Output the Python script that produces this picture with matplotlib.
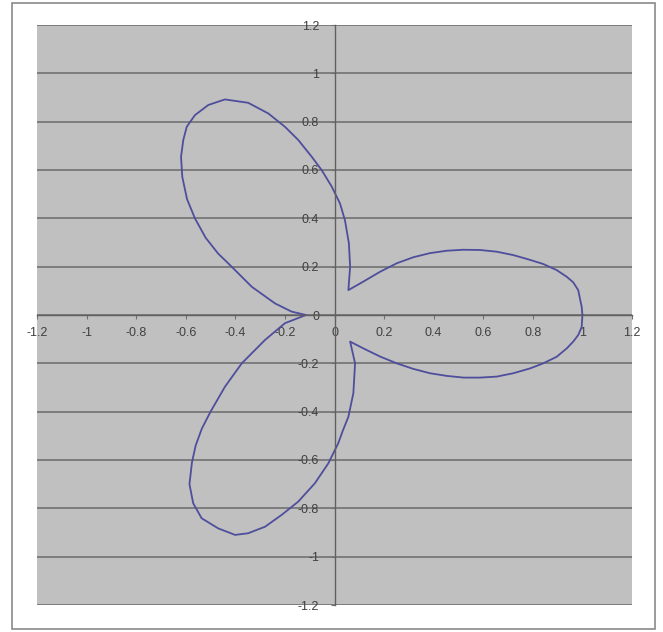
import matplotlib

matplotlib.use("Agg")
import matplotlib.pyplot as plt
from matplotlib.patches import Rectangle

# curve, in drawing order (one closed loop)
right_upper_x = [1.0, 0.997, 0.983, 0.963, 0.937, 0.896, 0.842, 0.789, 0.721, 0.654,
                 0.587, 0.52, 0.453, 0.385, 0.318, 0.251, 0.184, 0.116, 0.056]
right_upper_y = [0.0, 0.034, 0.103, 0.135, 0.158, 0.186, 0.211, 0.228, 0.248, 0.262,
                 0.269, 0.27, 0.266, 0.256, 0.239, 0.214, 0.179, 0.138, 0.103]

top_leaf_x = [0.063, 0.058, 0.042, 0.022, -0.011, -0.052, -0.092, -0.146, -0.2, -0.267,
              -0.348, -0.442, -0.509, -0.563, -0.596, -0.61, -0.619, -0.614, -0.595,
              -0.563, -0.52, -0.47, -0.415, -0.334, -0.24, -0.173, -0.115]
top_leaf_y = [0.2, 0.297, 0.393, 0.462, 0.531, 0.6, 0.655, 0.724, 0.779, 0.834,
              0.878, 0.892, 0.869, 0.827, 0.779, 0.724, 0.655, 0.572, 0.48,
              0.4, 0.32, 0.255, 0.2, 0.117, 0.048, 0.014, 0.0]

bottom_leaf_x = [-0.2, -0.28, -0.374, -0.442, -0.5, -0.535, -0.56, -0.575, -0.585, -0.57,
                 -0.536, -0.469, -0.401, -0.348, -0.28, -0.213, -0.146, -0.079, -0.025,
                 0.015, 0.033, 0.056, 0.076, 0.083, 0.063]
bottom_leaf_y = [-0.034, -0.103, -0.2, -0.297, -0.4, -0.47, -0.54, -0.61, -0.7, -0.779,
                 -0.841, -0.883, -0.91, -0.903, -0.876, -0.827, -0.772, -0.696, -0.614,
                 -0.531, -0.48, -0.421, -0.324, -0.2, -0.11]

right_lower_x = [0.116, 0.184, 0.251, 0.318, 0.385, 0.453, 0.52, 0.587, 0.654, 0.721,
                 0.789, 0.842, 0.896, 0.937, 0.963, 0.983, 0.997, 1.0]
right_lower_y = [-0.138, -0.172, -0.2, -0.223, -0.241, -0.252, -0.259, -0.259, -0.255,
                 -0.241, -0.221, -0.2, -0.173, -0.138, -0.11, -0.083, -0.05, 0.0]

ticks = [-1.2, -1.0, -0.8, -0.6, -0.4, -0.2, 0.0, 0.2, 0.4, 0.6, 0.8, 1.0, 1.2]
tick_labels = ["-1.2", "-1", "-0.8", "-0.6", "-0.4", "-0.2", "0",
               "0.2", "0.4", "0.6", "0.8", "1", "1.2"]

xs = right_upper_x + top_leaf_x + bottom_leaf_x + right_lower_x
ys = right_upper_y + top_leaf_y + bottom_leaf_y + right_lower_y

W, H = 663, 632
fig = plt.figure(figsize=(W / 100, H / 100), dpi=100)
fig.patches.append(
    Rectangle((11.5 / W, 3 / H), (655 - 11.5) / W, (629 - 3) / H,
              transform=fig.transFigure, fill=False, edgecolor="#8a8a8a", lw=1.2)
)

ax = fig.add_axes([37 / W, (H - 605) / H, 595 / W, 580 / H])
ax.set_facecolor("#c0c0c0")
ax.set_xlim(-1.2, 1.2)
ax.set_ylim(-1.2, 1.2)

ax.plot(xs, ys, color="#4e4e9c", lw=1.3, solid_joinstyle="round")

for side in ("top", "right"):
    ax.spines[side].set_visible(False)
for side in ("left", "bottom"):
    ax.spines[side].set_position(("data", 0))
    ax.spines[side].set_color("#606060")
    ax.spines[side].set_linewidth(1.0)

ax.set_xticks(ticks)
ax.set_xticklabels(tick_labels)
ax.set_yticks(ticks)
ax.set_yticklabels(tick_labels)
ax.tick_params(direction="out", length=3, width=0.8, color="#707070",
               labelsize=9, labelcolor="#404040")
ax.tick_params(axis="x", pad=6)
ax.tick_params(axis="y", pad=8)
for lbl in ax.get_xticklabels() + ax.get_yticklabels():
    lbl.set_family(["Liberation Sans", "DejaVu Sans"])

ax.yaxis.grid(True, color="#6a6a6a", lw=1.1)
ax.set_axisbelow(True)

fig.savefig("out.png", dpi=100)
